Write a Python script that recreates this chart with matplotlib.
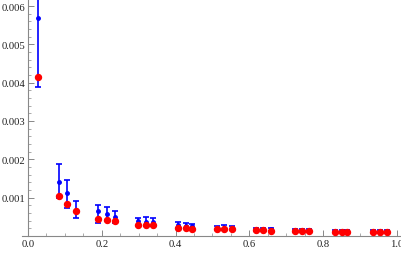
import matplotlib.pyplot as plt
from matplotlib.ticker import MultipleLocator, FormatStrFormatter

# x positions of the points
x = [0.028, 0.085, 0.107, 0.131, 0.191, 0.215, 0.236, 0.299, 0.32, 0.339,
     0.407, 0.428, 0.445, 0.512, 0.532, 0.553, 0.618, 0.637, 0.658,
     0.723, 0.742, 0.761, 0.831, 0.85, 0.866, 0.936, 0.955, 0.972]
# blue series with error bars
blue = [0.0057, 0.00142, 0.00113, 0.00068, 0.00065, 0.00057, 0.00049, 0.00038, 0.00037, 0.00036,
        0.00028, 0.00027, 0.00025, 0.00022, 0.00022, 0.00021, 0.00018, 0.00018, 0.00017,
        0.00015, 0.00015, 0.00014, 0.00013, 0.00013, 0.00013, 0.00012, 0.00012, 0.00012]
blue_hi = [0.0063, 0.00188, 0.00147, 0.0009, 0.00082, 0.00075, 0.00065, 0.00047, 0.00049, 0.00046,
           0.00036, 0.00035, 0.00032, 0.00027, 0.00028, 0.00026, 0.00022, 0.00022, 0.00021,
           0.00018, 0.00018, 0.00017, 0.00016, 0.00016, 0.00016, 0.00015, 0.00015, 0.00015]
blue_lo = [0.0039, 0.00098, 0.00072, 0.00046, 0.00035, 0.0004, 0.00034, 0.00026, 0.00026, 0.00025,
           0.0002, 0.0002, 0.00017, 0.00016, 0.00016, 0.00015, 0.00013, 0.00013, 0.00012,
           0.00011, 0.00011, 0.0001, 0.0001, 0.0001, 0.0001, 0.00009, 0.00009, 0.00009]
# red series
red = [0.00415, 0.00105, 0.00083, 0.00065, 0.00045, 0.00042, 0.00038, 0.00029, 0.00029, 0.00028,
       0.00022, 0.00022, 0.00019, 0.00018, 0.00018, 0.00017, 0.00015, 0.00015, 0.00014,
       0.00013, 0.00013, 0.00012, 0.00011, 0.00011, 0.00011, 0.0001, 0.0001, 0.0001]

plt.rcParams['font.family'] = ['Liberation Serif', 'DejaVu Serif']

fig = plt.figure(figsize=(4.02, 2.55), dpi=100)
ax = fig.add_axes([0.0547, 0.0706, 0.940, 0.929])

err = [[b - l for b, l in zip(blue, blue_lo)], [h - b for b, h in zip(blue, blue_hi)]]
ax.errorbar(x, blue, yerr=err, fmt='o', color='#0000ff', ms=2.5, elinewidth=1.2,
            capsize=2.5, capthick=1.2, zorder=2)
ax.plot(x, red, 'o', color='#ff0000', ms=4.3, zorder=3)

ax.set_xlim(-0.016, 1.008)
ax.set_ylim(0, 0.00618)

ax.xaxis.set_major_locator(MultipleLocator(0.2))
ax.xaxis.set_minor_locator(MultipleLocator(0.05))
ax.yaxis.set_major_locator(MultipleLocator(0.001))
ax.yaxis.set_minor_locator(MultipleLocator(0.0002))
ax.xaxis.set_major_formatter(FormatStrFormatter('%.1f'))
ax.yaxis.set_major_formatter(FormatStrFormatter('%.3f'))
ax.set_yticks([0.001, 0.002, 0.003, 0.004, 0.005, 0.006])
ax.set_xticks([0.0, 0.2, 0.4, 0.6, 0.8, 1.0])

for s in ['top', 'right']:
    ax.spines[s].set_visible(False)
ax.spines['left'].set_position(('data', 0))
for s in ['left', 'bottom']:
    ax.spines[s].set_color('#888888')
    ax.spines[s].set_linewidth(0.8)

ax.tick_params(which='major', direction='in', length=4, width=0.7, color='#888888',
               labelsize=7.7, labelcolor='#222222', pad=2)
ax.tick_params(which='minor', direction='in', length=2, width=0.5, color='#888888')

fig.savefig('out.png', dpi=100)
